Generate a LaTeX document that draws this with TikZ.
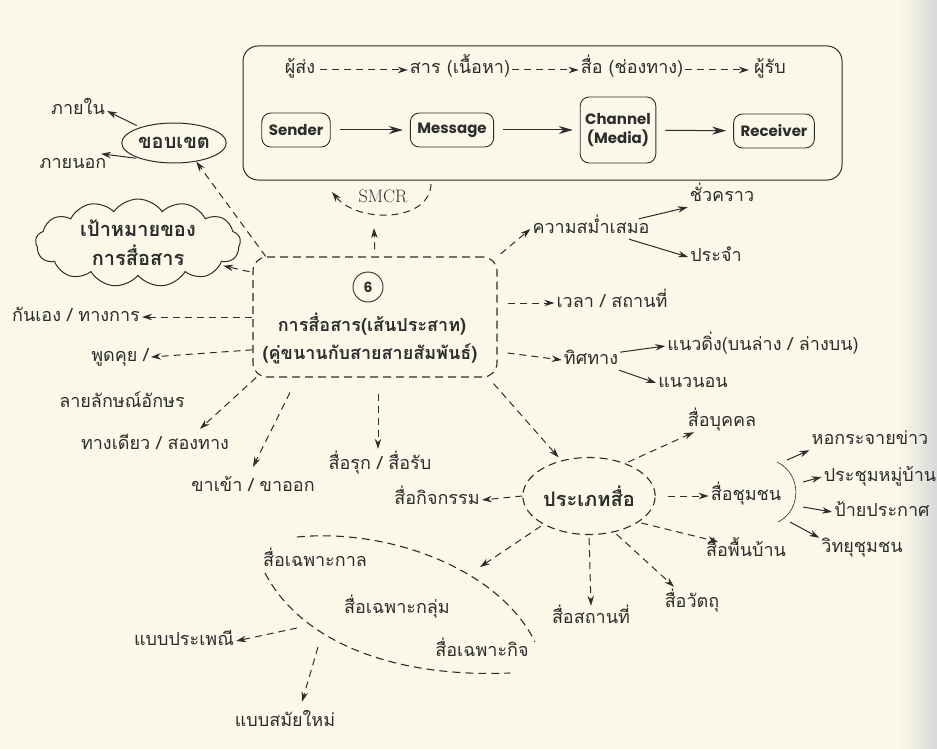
\documentclass[tikz,border=0pt]{standalone}
\usepackage{fontspec}
\newfontfamily\thai[Script=Thai]{Loma}
\newfontfamily\engfont{Poppins}
\usetikzlibrary{arrows.meta,shapes.geometric,shapes.symbols,positioning}
\definecolor{paper}{RGB}{250,248,232}
\definecolor{ink}{RGB}{45,45,45}

\tikzset{
  thaitxt/.style={font=\thai\fontsize{18}{21}\selectfont, text=ink, inner sep=2pt, text height=12pt, text depth=4pt},
  thaibold/.style={thaitxt, font=\thai\bfseries\fontsize{18}{21}\selectfont},
  thaibig/.style={font=\thai\bfseries\fontsize{20}{29}\selectfont, text=ink},
  engbox/.style={draw=ink, line width=0.9pt, rounded corners=9pt, font=\engfont\bfseries\fontsize{15}{19}\selectfont, text=ink, inner xsep=7pt, minimum height=34pt},
  dasharrow/.style={draw=ink, line width=1pt, dash pattern=on 7pt off 5pt, -{Stealth[length=10pt,width=6.5pt]}},
  solidarrow/.style={draw=ink, line width=1pt, -{Stealth[length=10pt,width=6.5pt]}},
  dashline/.style={draw=ink, line width=1.1pt, dash pattern=on 8pt off 5pt},
}

\begin{document}
\begin{tikzpicture}[x=1pt, y=-1pt]
  \fill[paper] (0,0) rectangle (937,749);
  \shade[left color=paper, right color=black!15] (900,0) rectangle (937,749);
  \useasboundingbox (0,0) rectangle (937,749);

  % SMCR frame
  \node[draw=ink, line width=1pt, rounded corners=15pt, minimum width=599pt, minimum height=134pt] (smcrframe) at (542.5,113) {};
  \node[thaitxt] (tsender) at (300,70) {ผู้ส่ง};
  \node[thaitxt] (tmessage) at (460,70) {สาร (เนื้อหา)};
  \node[thaitxt] (tchannel) at (632,70) {สื่อ (ช่องทาง)};
  \node[thaitxt] (treceiver) at (770,70) {ผู้รับ};
  \draw[dasharrow, shorten <=3pt] (tsender) -- (tmessage);
  \draw[dasharrow] (tmessage) -- (tchannel);
  \draw[dasharrow, shorten >=3pt] (tchannel) -- (treceiver);

  \node[engbox] (sender) at (296,130) {Sender};
  \node[engbox] (message) at (452,130) {Message};
  \node[engbox, align=center, inner sep=5pt, minimum height=66pt] (channel) at (618,130) {Channel\\(Media)};
  \node[engbox] (receiver) at (774,131) {Receiver};
  \draw[solidarrow, -{Stealth[length=14pt,width=8pt]}, shorten <=9pt, shorten >=7pt] (sender) -- (message);
  \draw[solidarrow, -{Stealth[length=14pt,width=8pt]}, shorten <=9pt, shorten >=7pt] (message) -- (channel);
  \draw[solidarrow, -{Stealth[length=14pt,width=8pt]}, shorten <=9pt, shorten >=7pt] (channel) -- (receiver);

  % SMCR
  \node[font=\rmfamily\fontsize{18}{18}\selectfont, text=ink] (smcr) at (383,196) {SMCR};
  \coordinate (smcrright) at (431,184);
  \coordinate (smcrleft) at (332,192);
  \coordinate (smcrin) at (374,228);
  \draw[dasharrow] (smcrright) .. controls (430,222) and (358,224) .. (smcrleft);

  % central box
  \node[dashline, rounded corners=14pt, minimum width=244pt, minimum height=120pt] (comm) at (375,317) {};
  \node[circle, draw=ink, line width=0.9pt, minimum size=30pt, inner sep=0pt, font=\engfont\bfseries\fontsize{14}{14}\selectfont, text=ink] (six) at (368,287) {6};
  \node[thaibold] (commtitle) at (372,327) {การสื่อสาร(เส้นประสาท)};
  \node[thaibold] (commsub) at (370,355) {(คู่ขนานกับสายสายสัมพันธ์)};
  \draw[dasharrow, shorten <=7pt] (comm.north) -- (smcrin);

  % left branches
  \node[draw=ink, line width=1pt, ellipse, minimum width=82pt, minimum height=40pt, inner sep=1pt, thaibig] (boundary) at (174,143) {ขอบเขต};
  \node[thaitxt] (inside) at (78,111) {ภายใน};
  \node[thaitxt] (outside) at (73,164) {ภายนอก};
  \draw[solidarrow, shorten <=4pt] (boundary.155) -- (inside.east);
  \draw[solidarrow, shorten <=4pt] (boundary.205) -- (outside.20);
  \draw[dasharrow] (comm.151) -- (boundary.320);

  \node[cloud, draw=ink, line width=1pt, cloud puffs=13, cloud puff arc=110, aspect=2.4, minimum width=205pt, minimum height=85pt, align=center, inner sep=1pt, thaibig] (goal) at (138,243) {เป้าหมายของ\\การสื่อสาร};
  \draw[dasharrow, shorten <=3pt, shorten >=3pt] (comm.160) -- (goal.-15);

  \node[thaitxt] (informal) at (76,317) {กันเอง / ทางการ};
  \draw[dasharrow] (comm.west) -- (informal.east);
  \node[thaitxt] (talk) at (120,357) {พูดคุย /};
  \node[thaitxt] (written) at (122,403) {ลายลักษณ์อักษร};
  \draw[dasharrow] (comm.195) -- (talk.east);
  \node[thaitxt] (oneway) at (155,445) {ทางเดียว / สองทาง};
  \draw[dasharrow] (comm.207) -- ([xshift=45pt,yshift=6pt]oneway.north);
  \node[thaitxt] (inout) at (253,487) {ขาเข้า / ขาออก};
  \draw[dasharrow] ([xshift=-85pt,yshift=-15pt]comm.south) -- ([yshift=10pt]inout.north);
  \node[thaitxt] (pushpull) at (380,465) {สื่อรุก / สื่อรับ};
  \draw[dasharrow] ([xshift=3pt,yshift=-16pt]comm.south) -- ([xshift=-2pt,yshift=6pt]pushpull.north);

  % right branches
  \node[thaitxt] (regular) at (591,229) {ความสม่ำเสมอ};
  \node[thaitxt] (temporary) at (722,197) {ชั่วคราว};
  \node[thaitxt] (fixed) at (716,257) {ประจำ};
  \draw[dasharrow, shorten <=4pt] (comm.north east) -- (regular.west);
  \draw[solidarrow] (regular.12) -- (temporary.south west);
  \draw[solidarrow] (regular.-15) -- (fixed.west);
  \node[thaitxt] (timeplace) at (612,303) {เวลา / สถานที่};
  \draw[dasharrow, shorten <=10pt] (comm.east |- timeplace.west) -- (timeplace.west);
  \node[thaitxt] (direction) at (591,360) {ทิศทาง};
  \node[thaitxt] (vertical) at (763,346) {แนวดิ่ง(บนล่าง / ล่างบน)};
  \node[thaitxt] (horizontal) at (693,383) {แนวนอน};
  \draw[dasharrow] ([xshift=10pt,yshift=-36pt]comm.east) -- (direction.west);
  \draw[solidarrow] (direction.15) -- (vertical.west);
  \draw[solidarrow] (direction.-20) -- (horizontal.west);

  % media types
  \node[dashline, ellipse, minimum width=128pt, minimum height=77pt, inner sep=1pt, thaibig] (media) at (589,496) {ประเภทสื่อ};
  \draw[dasharrow, shorten >=4pt] ([xshift=-4pt,yshift=-6pt]comm.south east) -- (media.128);

  \node[thaitxt] (personal) at (722,422) {สื่อบุคคล};
  \draw[dasharrow, shorten <=3pt] (media.42) -- (personal.200);
  \node[thaitxt] (community) at (746,496) {สื่อชุมชน};
  \draw[dasharrow, shorten <=12pt] (media.east) -- (community.west);
  \node[thaitxt] (folk) at (746,552) {สื่อพื้นบ้าน};
  \draw[dasharrow, shorten <=3pt] (media.-28) -- (folk.160);
  \node[thaitxt] (object) at (692,603) {สื่อวัตถุ};
  \draw[dasharrow, shorten <=3pt] (media.-55) -- ([xshift=-18pt,yshift=6pt]object.north);
  \node[thaitxt] (place) at (591,619) {สื่อสถานที่};
  \draw[dasharrow, shorten <=3pt] (media.south) -- ([yshift=3pt]place.north);
  \node[thaitxt] (activity) at (437,500) {สื่อกิจกรรม};
  \draw[dasharrow] (media.west) -- (activity.east);

  % community channels
  \coordinate (arctop) at (777,462);
  \coordinate (arcbottom) at (778,522);
  \draw[ink, line width=0.6pt] (arctop) .. controls (802,474) and (802,510) .. (arcbottom);
  \coordinate (arcA) at (787,460);
  \coordinate (arcB) at (803,482);
  \coordinate (arcC) at (803,507);
  \coordinate (arcD) at (790,522);
  \node[thaitxt] (tower) at (870,440) {หอกระจายข่าว};
  \node[thaitxt] (meeting) at (880,477) {ประชุมหมู่บ้าน};
  \node[thaitxt] (board) at (882,512) {ป้ายประกาศ};
  \node[thaitxt] (radio) at (862,548) {วิทยุชุมชน};
  \draw[solidarrow] (arcA) -- (tower.south west);
  \draw[solidarrow] (arcB) -- (meeting.west);
  \draw[solidarrow] (arcC) -- (board.west);
  \draw[solidarrow] (arcD) -- (radio.north west);

  % specific media
  \coordinate (lensin) at (480,567);
  \draw[dasharrow, shorten <=3pt] (media.212) -- (lensin);
  \coordinate (uppera) at (297,537);
  \coordinate (upperb) at (535,642);
  \coordinate (lowera) at (265,573);
  \coordinate (lowerb) at (510,673);
  \draw[dashline] (uppera) .. controls (390,528) and (500,570) .. (upperb);
  \draw[dashline] (lowera) .. controls (300,640) and (390,678) .. (lowerb);
  \node[thaitxt] (seasonal) at (315,562) {สื่อเฉพาะกาล};
  \node[thaitxt] (group) at (397,609) {สื่อเฉพาะกลุ่ม};
  \node[thaitxt] (special) at (482,652) {สื่อเฉพาะกิจ};
  \coordinate (tradfrom) at (297,628);
  \coordinate (modfrom) at (318,647);
  \node[thaitxt] (tradition) at (184,641) {แบบประเพณี};
  \node[thaitxt] (modern) at (285,722) {แบบสมัยใหม่};
  \draw[dasharrow] (tradfrom) -- (tradition.east);
  \draw[dasharrow] (modfrom) -- ([xshift=17pt,yshift=10pt]modern.north);
\end{tikzpicture}
\end{document}
